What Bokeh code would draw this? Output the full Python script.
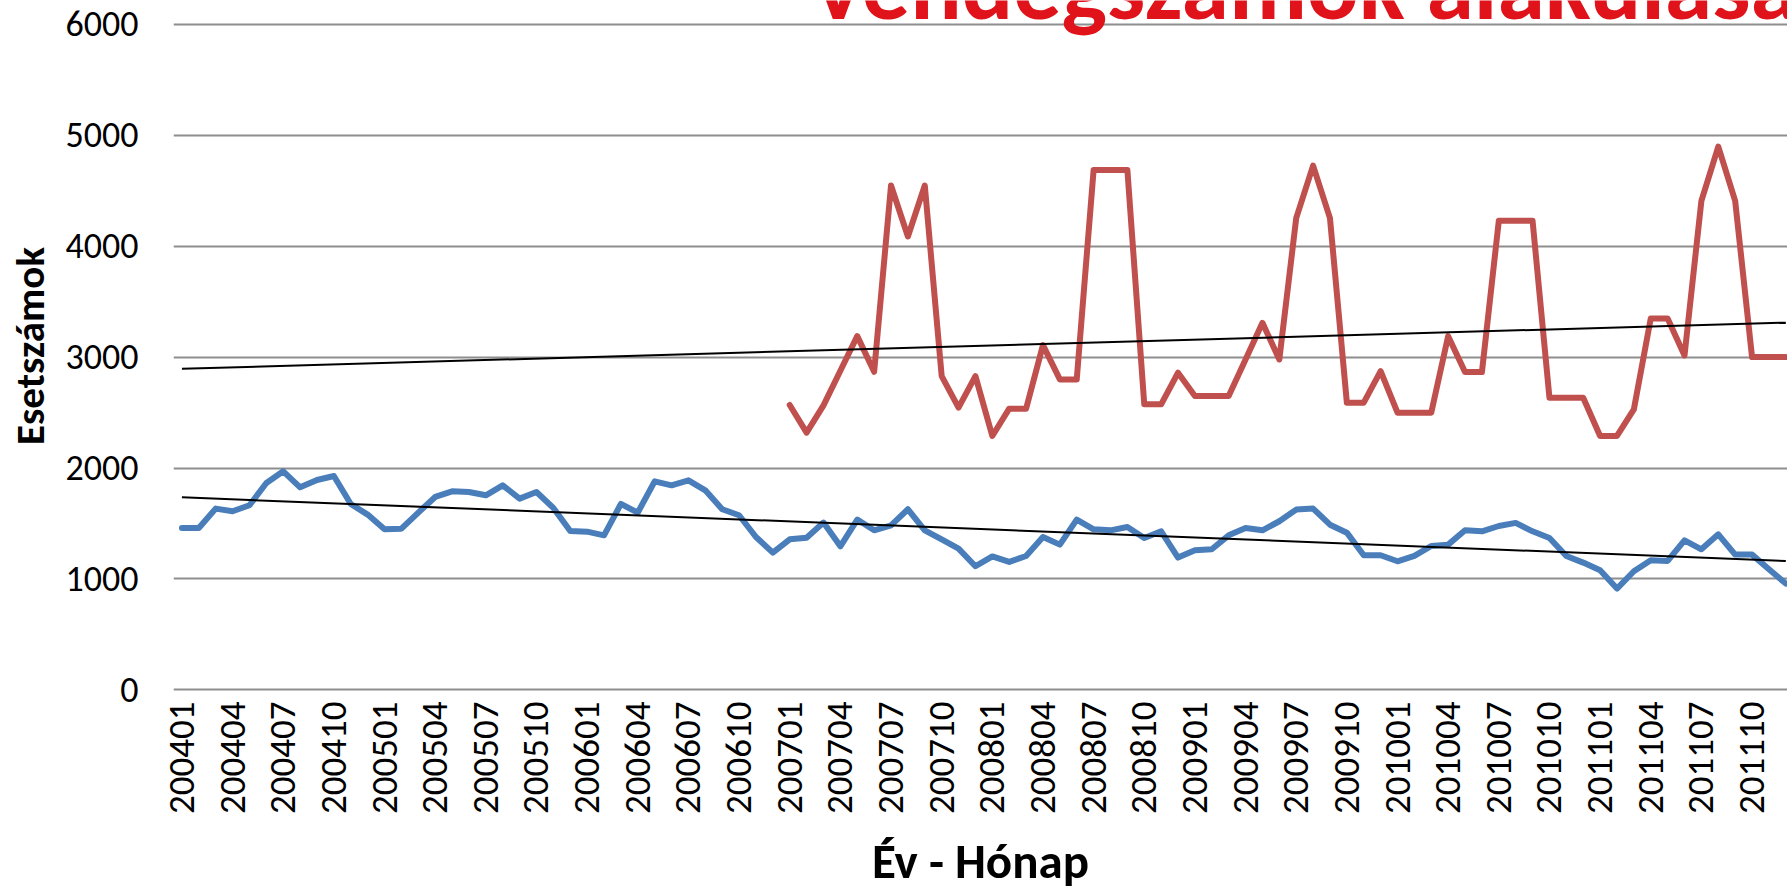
import math
from bokeh.plotting import figure
from bokeh.models import Range1d, FixedTicker, Label
from bokeh.embed import file_html
from bokeh.resources import INLINE

# ---------------- data ----------------
years = ["2004", "2005", "2006", "2007", "2008", "2009", "2010", "2011"]
month_nums = ["01", "02", "03", "04", "05", "06", "07", "08", "09", "10", "11", "12"]
months = [y + m for y in years for m in month_nums]

blue = [1459, 1459, 1634, 1610, 1664, 1865, 1970, 1826, 1892, 1928, 1676, 1580,
        1447, 1453, 1598, 1739, 1790, 1784, 1754, 1844, 1724, 1784, 1640, 1432,
        1426, 1393, 1676, 1598, 1880, 1844, 1889, 1799, 1628, 1574, 1378, 1237,
        1357, 1372, 1508, 1294, 1535, 1438, 1483, 1628, 1438, 1357, 1273, 1114,
        1203, 1153, 1207, 1378, 1309, 1535, 1447, 1438, 1468, 1369, 1429, 1192,
        1258, 1267, 1393, 1459, 1438, 1520, 1625, 1634, 1489, 1417, 1213, 1213,
        1159, 1207, 1297, 1309, 1438, 1429, 1477, 1505, 1429, 1369, 1207, 1147,
        1078, 913, 1069, 1168, 1162, 1348, 1267, 1402, 1219, 1219, 1087, 958]

red_start = "200701"
red = [2568, 2319, 2565, 2877, 3189, 2868, 4547, 4088, 4547, 2829, 2544, 2829,
       2289, 2535, 2535, 3108, 2799, 2799, 4688, 4688, 4688, 2574, 2574, 2859,
       2649, 2649, 2649, 2979, 3309, 2979, 4253, 4727, 4253, 2589, 2589, 2874,
       2499, 2499, 2499, 3189, 2865, 2865, 4229, 4229, 4229, 2634, 2634, 2634,
       2289, 2289, 2529, 3348, 3348, 3015, 4409, 4898, 4409, 3000, 3000, 3000]

trend_blue = [1736, 1162]   # trendline at first and last month
trend_red = [2895, 3311]

y_ticks = [0, 1000, 2000, 3000, 4000, 5000, 6000]
label_every = 3

TITLE = "Vendégszámok alakulása"
X_TITLE = "Év - Hónap"
Y_TITLE = "Esetszámok"

# ---------------- figure ----------------
FONT = "Carlito, Lato"
xb = list(range(len(months)))
r0 = months.index(red_start)
xr = list(range(r0, r0 + len(red)))
xt = [0, len(months) - 1]

p = figure(width=1787, height=894, output_backend="svg", toolbar_location=None,
           x_range=Range1d(-0.5, 95.1), y_range=Range1d(-15.3, 6215.8),
           min_border_left=173, min_border_right=0, min_border_top=0,
           min_border_bottom=201)
p.outline_line_color = None
p.background_fill_color = "white"
p.border_fill_color = "white"

p.xgrid.visible = False
p.ygrid.grid_line_color = "#8e8e8e"
p.ygrid.grid_line_width = 2
p.ygrid.ticker = FixedTicker(ticks=y_ticks)

p.yaxis.ticker = FixedTicker(ticks=y_ticks)
p.yaxis.axis_line_color = None
p.yaxis.major_tick_line_color = None
p.yaxis.minor_tick_line_color = None
p.yaxis.major_tick_out = 0
p.yaxis.major_tick_in = 0
p.yaxis.major_label_standoff = 35
p.yaxis.major_label_text_font = FONT
p.yaxis.major_label_text_font_size = "36px"
p.yaxis.major_label_text_color = "black"
p.yaxis.axis_label = Y_TITLE
p.yaxis.axis_label_text_font = FONT
p.yaxis.axis_label_text_font_style = "bold"
p.yaxis.axis_label_text_font_size = "41px"
p.yaxis.axis_label_text_color = "black"
p.yaxis.axis_label_standoff = 8

xticks = list(range(0, len(months), label_every))
p.xaxis.ticker = FixedTicker(ticks=xticks)
p.xaxis.major_label_overrides = {i: months[i] for i in xticks}
p.xaxis.major_label_orientation = math.pi / 2
p.xaxis.axis_line_color = None
p.xaxis.major_tick_line_color = None
p.xaxis.minor_tick_line_color = None
p.xaxis.major_tick_out = 0
p.xaxis.major_tick_in = 0
p.xaxis.major_label_standoff = 10
p.xaxis.major_label_text_font = FONT
p.xaxis.major_label_text_font_size = "37px"
p.xaxis.major_label_text_color = "black"
p.xaxis.axis_label = X_TITLE
p.xaxis.axis_label_text_font = FONT
p.xaxis.axis_label_text_font_style = "bold"
p.xaxis.axis_label_text_font_size = "49px"
p.xaxis.axis_label_text_color = "black"
p.xaxis.axis_label_standoff = 14

p.line(xb, blue, line_color="#4A7EBB", line_width=6, line_join="round", line_cap="round")
p.line(xr, red, line_color="#C0504D", line_width=6, line_join="round", line_cap="round")
p.line(xt, trend_blue, line_color="black", line_width=2)
p.line(xt, trend_red, line_color="black", line_width=2)

p.add_layout(Label(x=37.2, y=6340, text=TITLE, text_color="#E0121A",
                   text_font=FONT, text_font_style="bold", text_font_size="96px",
                   text_baseline="alphabetic", text_align="left"))

open("out.html", "w").write(file_html(p, INLINE))
